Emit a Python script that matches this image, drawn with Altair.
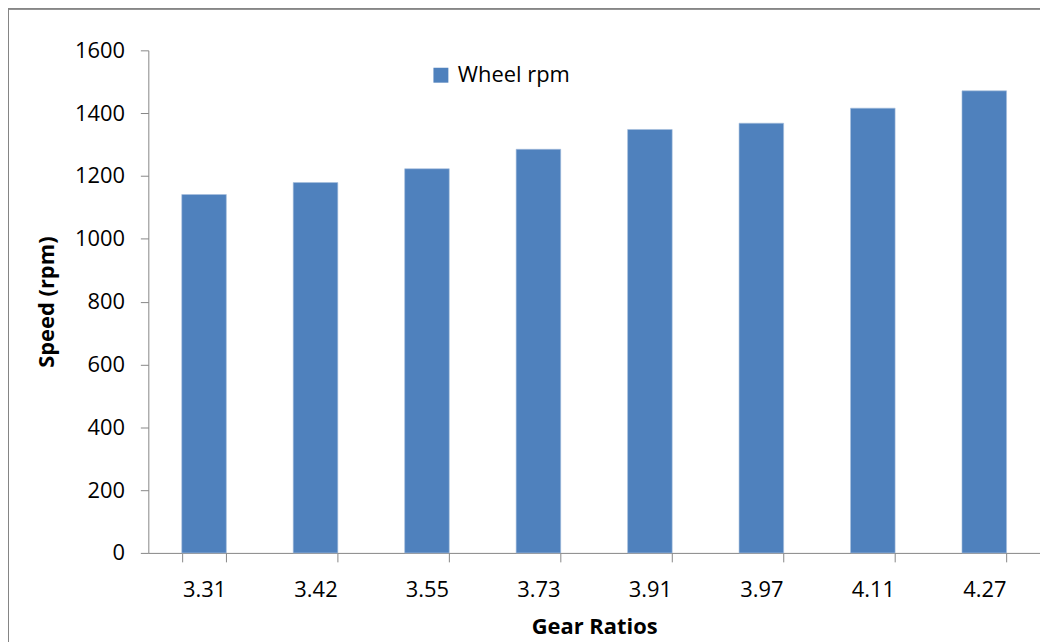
import altair as alt
import pandas as pd

ratios = ["3.31", "3.42", "3.55", "3.73", "3.91", "3.97", "4.11", "4.27"]
wheel_rpm = [1141, 1179, 1223, 1285, 1348, 1368, 1416, 1471]
series = ["Wheel rpm"] * len(ratios)

df = pd.DataFrame({"ratio": ratios, "rpm": wheel_rpm, "series": series})

FONT = "Open Sans"
GRAY = "#868686"

bars = alt.Chart(df).mark_bar(color="#4F81BD", stroke="#a7bfde", strokeWidth=0.6).encode(
    x=alt.X("ratio:N", sort=ratios,
            scale=alt.Scale(paddingInner=0.6, paddingOuter=0.3),
            axis=alt.Axis(title="Gear Ratios", labelAngle=0, tickBand="extent",
                          domainColor=GRAY, tickColor=GRAY, tickSize=9,
                          labelPadding=18, labelFont=FONT, labelFontSize=22,
                          labelColor="#000000", titleFont=FONT, titleFontSize=22,
                          titleFontWeight="bold", titleColor="#000000", titlePadding=16)),
    y=alt.Y("rpm:Q", scale=alt.Scale(domain=[0, 1600], nice=False),
            axis=alt.Axis(title="Speed (rpm)", values=list(range(0, 1601, 200)), grid=False,
                          format="d",
                          domainColor=GRAY, tickColor=GRAY, tickSize=8,
                          labelPadding=16, labelFont=FONT, labelFontSize=22,
                          labelColor="#000000", titleFont=FONT, titleFontSize=22,
                          titleFontWeight="bold", titleColor="#000000", titlePadding=16)),
    color=alt.Color("series:N", scale=alt.Scale(range=["#4F81BD"]),
                    legend=alt.Legend(title=None, orient="none", legendX=283, legendY=14,
                                      symbolType="square", symbolSize=225, symbolStrokeWidth=0,
                                      labelFont=FONT, labelFontSize=22, labelColor="#000000",
                                      labelOffset=6)),
)

border_left = alt.Chart(df).mark_rule(color=GRAY, strokeWidth=1.5).encode(
    x=alt.value(-141), y=alt.value(-42), y2=alt.value(620)
)
border_top = alt.Chart(df).mark_rule(color=GRAY, strokeWidth=1.5).encode(
    x=alt.value(-141), x2=alt.value(920), y=alt.value(-42)
)

chart = alt.layer(border_left, border_top, bars).properties(
    width=896, height=505,
    autosize=alt.AutoSizeParams(type="none"),
    padding={"left": 141, "top": 41, "right": 0, "bottom": 88},
).configure(
    background="white",
    view=alt.ViewConfig(stroke="transparent", strokeWidth=0),
)

chart.save("out.html", embed_options={"renderer": "svg", "actions": False})
